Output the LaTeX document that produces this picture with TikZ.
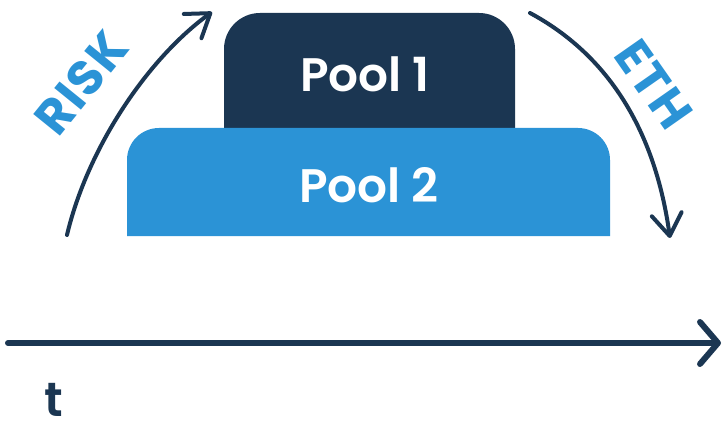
\documentclass[tikz,border=0pt]{standalone}
\usepackage{fontspec}
\usetikzlibrary{arrows.meta}
\newfontfamily\popsb{Poppins SemiBold}
\newfontfamily\popb{Poppins Bold}[LetterSpace=3]
\definecolor{navy}{HTML}{1B3652}
\definecolor{poolblue}{HTML}{2B93D6}
\tikzset{
  pooltext/.style={text=white, inner sep=0pt, anchor=base, font=\popsb\fontsize{47}{47}\selectfont},
  sidelabel/.style={text=poolblue, inner sep=0pt, anchor=center, font=\popb\fontsize{49}{49}\selectfont},
  flow/.style={draw=navy, line width=4pt, line cap=round, -{Straight Barb[length=22pt, width=30pt, round]}},
  timeline/.style={draw=navy, line width=6pt, line cap=round, -{Straight Barb[length=18pt, width=42pt, round]}}
}
\begin{document}
\begin{tikzpicture}[x=1pt, y=-1pt]
\useasboundingbox (0,0) rectangle (725,422);
% pool shapes
\fill[navy] (224,140) [rounded corners=36pt] -- (224,13) -- (515,13) [sharp corners] -- (515,140) -- cycle;
\fill[poolblue] (127,236) [rounded corners=32pt] -- (127,128) -- (610,128) [sharp corners] -- (610,236) -- cycle;
\node[pooltext] (pool1) at (365,92) {Pool 1};
\node[pooltext] (pool2) at (369,203) {Pool 2};
% side arrows
\coordinate (riskstart) at (67,235);
\coordinate (riskend) at (212,12);
\draw[flow] (riskstart) .. controls (87,150) and (146,60) .. (riskend);
\coordinate (ethstart) at (530,13);
\coordinate (ethend) at (670,238);
\draw[flow] (ethstart) .. controls (608,55) and (655,130) .. (ethend);
\node[sidelabel, rotate=51] (risk) at (81,83) {RISK};
\node[sidelabel, rotate=-55] (eth) at (654,84) {ETH};
% time axis
\coordinate (t0) at (8,343);
\coordinate (t1) at (721,343);
\draw[timeline] (t0) -- (t1);
\node[text=navy, inner sep=0pt, anchor=base, font=\popsb\fontsize{48}{48}\selectfont] (tlabel) at (54,416) {t};
\end{tikzpicture}
\end{document}
